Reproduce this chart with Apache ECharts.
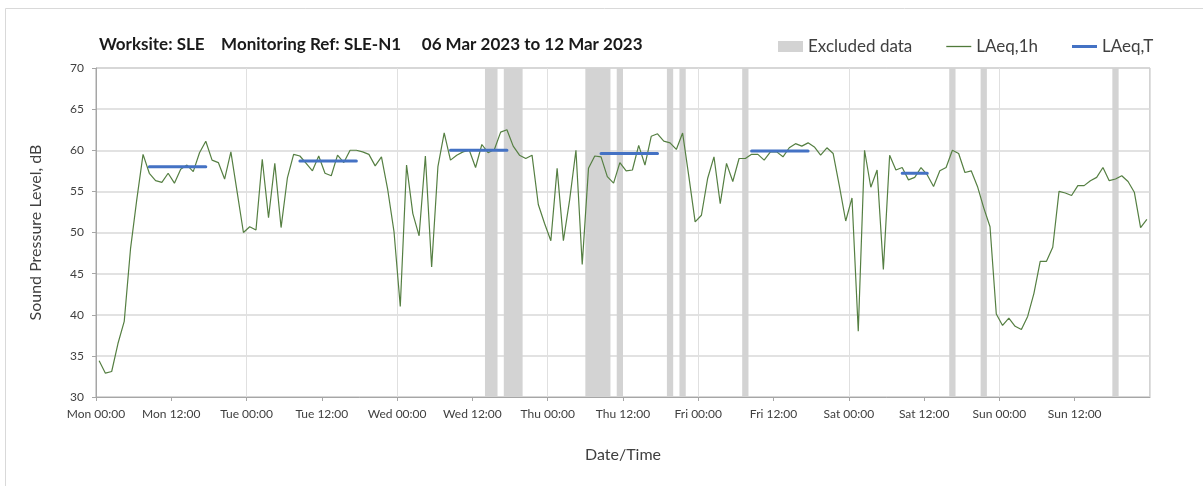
<!DOCTYPE html>
<html>
<head>
<meta charset="utf-8">
<script src="https://cdn.jsdelivr.net/npm/echarts@6/dist/echarts.min.js"></script>
<style>
  html, body { margin: 0; padding: 0; background: #fff; }
  #chart { width: 1203px; height: 486px; }
</style>
</head>
<body>
<div id="chart"></div>
<script>
// hourly LAeq,1h values, hour 0 = Mon 00:00 (plotted at mid-hour)
const laeq1h = [
  34.4, 32.9, 33.1, 36.5, 39.2, 48.0, 54.0, 59.5, 57.2, 56.3, 56.1, 57.2,
  56.0, 57.7, 58.2, 57.4, 59.7, 61.1, 58.8, 58.5, 56.5, 59.8, 54.9, 50.0,
  50.7, 50.3, 58.9, 51.8, 58.4, 50.6, 56.6, 59.5, 59.3, 58.4, 57.5, 59.3,
  57.2, 56.9, 59.4, 58.5, 60.0, 60.0, 59.8, 59.5, 58.1, 59.2, 55.2, 50.1,
  41.0, 58.2, 52.3, 49.6, 59.3, 45.8, 58.0, 62.1, 58.8, 59.4, 59.8, 60.0,
  57.9, 60.7, 59.7, 60.1, 62.2, 62.5, 60.5, 59.4, 59.0, 59.4, 53.4, 51.1,
  49.0, 57.8, 49.0, 54.0, 60.0, 46.1, 57.8, 59.3, 59.2, 56.8, 56.0, 58.5,
  57.5, 57.6, 60.6, 58.2, 61.7, 62.0, 61.1, 60.9, 60.1, 62.1, 56.8, 51.3,
  52.1, 56.6, 59.2, 53.5, 58.4, 56.2, 59.0, 59.0, 59.5, 59.5, 58.8, 59.8,
  59.8, 59.2, 60.3, 60.8, 60.5, 60.9, 60.4, 59.4, 60.3, 59.6, 55.6, 51.4,
  54.2, 38.0, 60.0, 55.5, 57.6, 45.5, 59.4, 57.6, 57.9, 56.4, 56.7, 57.9,
  57.0, 55.6, 57.5, 57.9, 60.0, 59.6, 57.3, 57.5, 55.6, 53.0, 50.7, 40.1,
  38.7, 39.6, 38.6, 38.2, 39.8, 42.6, 46.5, 46.5, 48.2, 55.0, 54.8, 54.5,
  55.7, 55.7, 56.3, 56.7, 57.9, 56.3, 56.5, 56.9, 56.2, 54.9, 50.6, 51.6
];

// LAeq,T periods (hour from Mon 00:00)
const periodStart = [8, 32, 56, 80, 104, 128];
const periodEnd = [18, 42, 66, 90, 114, 133];
const periodValue = [58.0, 58.7, 60.0, 59.6, 59.9, 57.2];

// excluded data periods (hour from Mon 00:00)
const excludedStart = [62, 65, 78, 83, 91, 93, 103, 136, 141, 162];
const excludedEnd = [64, 68, 82, 84, 92, 94, 104, 137, 142, 163];

const dayNames = ['Mon', 'Tue', 'Wed', 'Thu', 'Fri', 'Sat', 'Sun'];

const font = 'Lato';
const textColor = '#404040';

const chart = echarts.init(document.getElementById('chart'));

const series = [
  {
    name: 'Excluded data',
    type: 'line',
    data: [],
    color: '#d3d3d3',
    markArea: {
      silent: true,
      itemStyle: { color: '#d3d3d3' },
      data: excludedStart.map((s, i) => [{ xAxis: s }, { xAxis: excludedEnd[i] }])
    }
  },
  {
    name: 'LAeq,1h',
    type: 'line',
    data: laeq1h.map((v, h) => [h + 0.5, v]),
    symbol: 'none',
    color: '#4f7a3a',
    lineStyle: { width: 1.2, color: '#557f42' },
    z: 3
  }
];

periodStart.forEach((s, i) => {
  const pts = [];
  for (let h = s; h < periodEnd[i]; h++) pts.push([h + 0.5, periodValue[i]]);
  series.push({
    name: 'LAeq,T',
    type: 'line',
    data: pts,
    symbol: 'none',
    color: '#4472c4',
    lineStyle: { width: 3, color: '#4472c4', cap: 'round' },
    z: 4
  });
});

chart.setOption({
  animation: false,
  // chart-area frame (only its top/left edges fall inside the view)
  graphic: [{
    type: 'rect',
    silent: true,
    shape: { x: 5.5, y: 8.5, width: 1400, height: 700 },
    style: { fill: 'none', stroke: '#d9d9d9', lineWidth: 1 }
  }],
  title: {
    text: 'Worksite: SLE    Monitoring Ref: SLE-N1     06 Mar 2023 to 12 Mar 2023',
    left: 94,
    top: 31,
    textStyle: { fontFamily: font, fontSize: 17, fontWeight: 'bold', color: '#1a1a1a' }
  },
  legend: {
    left: 773,
    top: 33,
    itemWidth: 25,
    itemHeight: 11,
    itemGap: 34,
    textStyle: { fontFamily: font, fontSize: 17, color: textColor },
    data: [
      { name: 'Excluded data', icon: 'rect' },
      { name: 'LAeq,1h', icon: 'path://M0,0 L25,0 L25,1.3 L0,1.3 Z' },
      { name: 'LAeq,T', icon: 'path://M0,0 L25,0 L25,3 L0,3 Z' }
    ]
  },
  grid: {
    left: 96,
    right: 53,
    top: 68,
    bottom: 89,
    show: true,
    borderColor: '#a6a6a6',
    borderWidth: 1
  },
  xAxis: [
    {
      type: 'value',
      min: 0,
      max: 168,
      interval: 12,
      name: 'Date/Time',
      nameLocation: 'middle',
      nameGap: 50,
      nameTextStyle: { fontFamily: font, fontSize: 16, color: textColor },
      axisLine: { lineStyle: { color: '#a6a6a6' } },
      axisTick: { show: true, length: 4, lineStyle: { color: '#a6a6a6' } },
      splitLine: { show: false },
      axisLabel: {
        fontFamily: font,
        fontSize: 12,
        color: textColor,
        margin: 11,
        showMaxLabel: false,
        formatter: v => {
          if (v >= 168) return '';
          const d = Math.floor(v / 24);
          const hh = v % 24;
          return dayNames[d] + ' ' + (hh < 10 ? '0' + hh : hh) + ':00';
        }
      }
    },
    {
      type: 'value',
      min: 0,
      max: 168,
      interval: 24,
      position: 'bottom',
      axisLine: { show: false },
      axisTick: { show: false },
      axisLabel: { show: false },
      splitLine: { show: true, lineStyle: { color: '#e0e0e0', width: 1 } }
    }
  ],
  yAxis: {
    type: 'value',
    min: 30,
    max: 70,
    interval: 5,
    name: 'Sound Pressure Level, dB',
    nameLocation: 'middle',
    nameGap: 52,
    nameTextStyle: { fontFamily: font, fontSize: 16, color: textColor },
    axisLine: { show: true, lineStyle: { color: '#a6a6a6' } },
    axisTick: { show: true, length: 4, lineStyle: { color: '#a6a6a6' } },
    axisLabel: { fontFamily: font, fontSize: 12, color: textColor, margin: 12 },
    splitLine: { lineStyle: { color: '#d9d9d9', width: 1.5 } }
  },
  series: series
});
</script>
</body>
</html>
